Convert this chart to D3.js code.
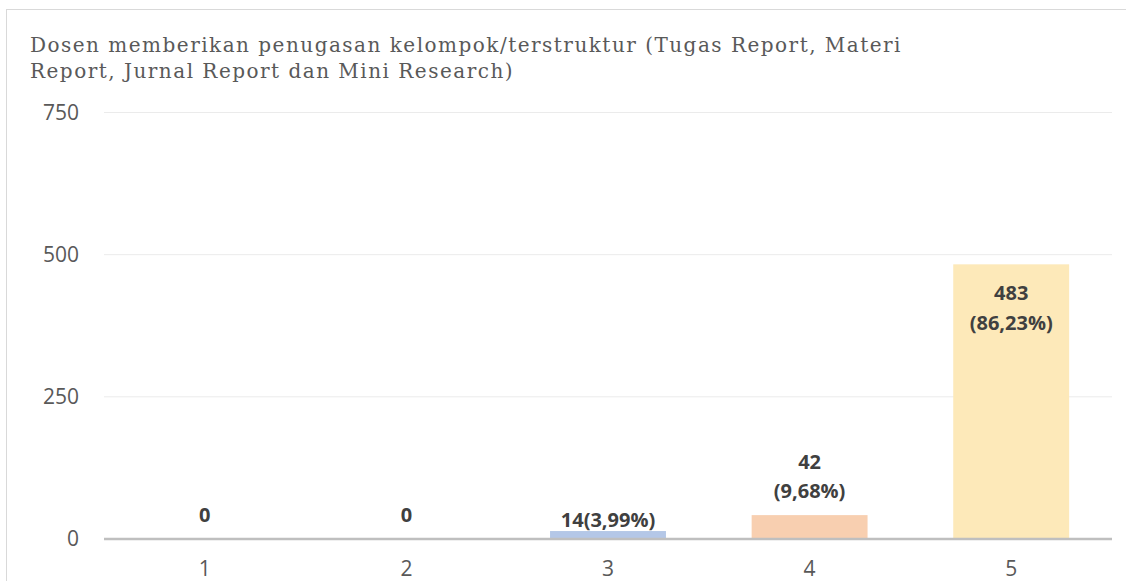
<!DOCTYPE html>
<html>
<head>
<meta charset="utf-8">
<script src="https://cdn.jsdelivr.net/npm/d3@7"></script>
<style>
  html, body { margin: 0; padding: 0; background: #fff; }
  svg { display: block; }
</style>
</head>
<body>
<svg id="chart" width="1126" height="581"></svg>
<script>
// chart data
const titleLines = [
    "Dosen memberikan penugasan kelompok/terstruktur (Tugas Report, Materi",
    "Report, Jurnal Report dan Mini Research)"
];
const categories = ["1", "2", "3", "4", "5"];
const values = [0, 0, 14, 42, 483];
const valueLabels = [["0"], ["0"], ["14(3,99%)"], ["42", "(9,68%)"], ["483", "(86,23%)"]];
const labelPlacement = ["out", "out", "edge", "out", "in"];
const barColors = ["#b4c7e7", "#b4c7e7", "#b4c7e7", "#f8cfb0", "#fde9b9"];
const yTicks = [0, 250, 500, 750];

const svg = d3.select("#chart");

// frame of the chart area
svg.append("rect")
    .attr("x", 6.5).attr("y", 9.5)
    .attr("width", 1300).attr("height", 1000)
    .attr("fill", "none")
    .attr("stroke", "#d9d9d9")
    .attr("stroke-width", 1);

const x = d3.scaleBand()
    .domain(categories)
    .range([104, 1112])
    .paddingInner(0.425)
    .paddingOuter(0.2125);

const y = d3.scaleLinear()
    .domain([0, 750])
    .range([539, 112.5]);

// title, stretched to the width of the original
const title = svg.append("g").attr("class", "title");
title.selectAll("text")
    .data(titleLines)
    .enter()
    .append("text")
    .attr("x", 30)
    .attr("y", (d, i) => 52 + i * 26)
    .attr("font-family", "'DejaVu Serif', serif")
    .attr("font-size", 20)
    .attr("fill", "#595959")
    .text(d => d);

const first = title.select("text").node();
const natural = first.getComputedTextLength();
const spacing = Math.max(0, (872 - natural) / titleLines[0].length);
title.selectAll("text").attr("letter-spacing", spacing);

// gridlines
svg.append("g")
    .selectAll("line")
    .data(yTicks.filter(t => t > 0))
    .enter()
    .append("line")
    .attr("x1", 104).attr("x2", 1112)
    .attr("y1", d => y(d)).attr("y2", d => y(d))
    .attr("stroke", "#ebebeb")
    .attr("stroke-width", 1);

// y axis labels
const yAxis = svg.append("g")
    .attr("transform", "translate(104,0)")
    .call(d3.axisLeft(y).tickValues(yTicks).tickSize(0).tickPadding(25));
yAxis.select(".domain").remove();
yAxis.selectAll("text")
    .attr("font-family", "'Open Sans', sans-serif")
    .attr("font-size", 21)
    .attr("fill", "#595959");

// bars
svg.append("g")
    .selectAll("rect")
    .data(values)
    .enter()
    .append("rect")
    .attr("x", (d, i) => x(categories[i]))
    .attr("y", d => y(d))
    .attr("width", x.bandwidth())
    .attr("height", d => y(0) - y(d))
    .attr("fill", (d, i) => barColors[i]);

// baseline
svg.append("line")
    .attr("x1", 104).attr("x2", 1112)
    .attr("y1", y(0)).attr("y2", y(0))
    .attr("stroke", "#bfbfbf")
    .attr("stroke-width", 2.5);

// x axis labels
const xAxis = svg.append("g")
    .attr("transform", `translate(0,${y(0)})`)
    .call(d3.axisBottom(x).tickSize(0).tickPadding(22));
xAxis.select(".domain").remove();
xAxis.selectAll("text")
    .attr("font-family", "'Open Sans', sans-serif")
    .attr("font-size", 21)
    .attr("fill", "#595959");

// value labels
const lineGap = 29.5;
const labels = svg.append("g");
values.forEach((v, i) => {
    const lines = valueLabels[i];
    const cx = x(categories[i]) + x.bandwidth() / 2;
    let firstY;
    if (labelPlacement[i] === "in") {
        firstY = y(v) + 29;
    } else if (labelPlacement[i] === "edge") {
        firstY = y(v) - 11;
    } else {
        firstY = y(v) - 24 - (lines.length - 1) * lineGap;
    }
    labels.append("text")
        .attr("x", cx)
        .attr("text-anchor", "middle")
        .attr("font-family", "'Open Sans', sans-serif")
        .attr("font-weight", "bold")
        .attr("font-size", 20)
        .attr("fill", "#404040")
        .selectAll("tspan")
        .data(lines)
        .enter()
        .append("tspan")
        .attr("x", cx)
        .attr("y", (d, j) => firstY + j * lineGap)
        .attr("dy", "0.35em")
        .text(d => d);
});
</script>
</body>
</html>
